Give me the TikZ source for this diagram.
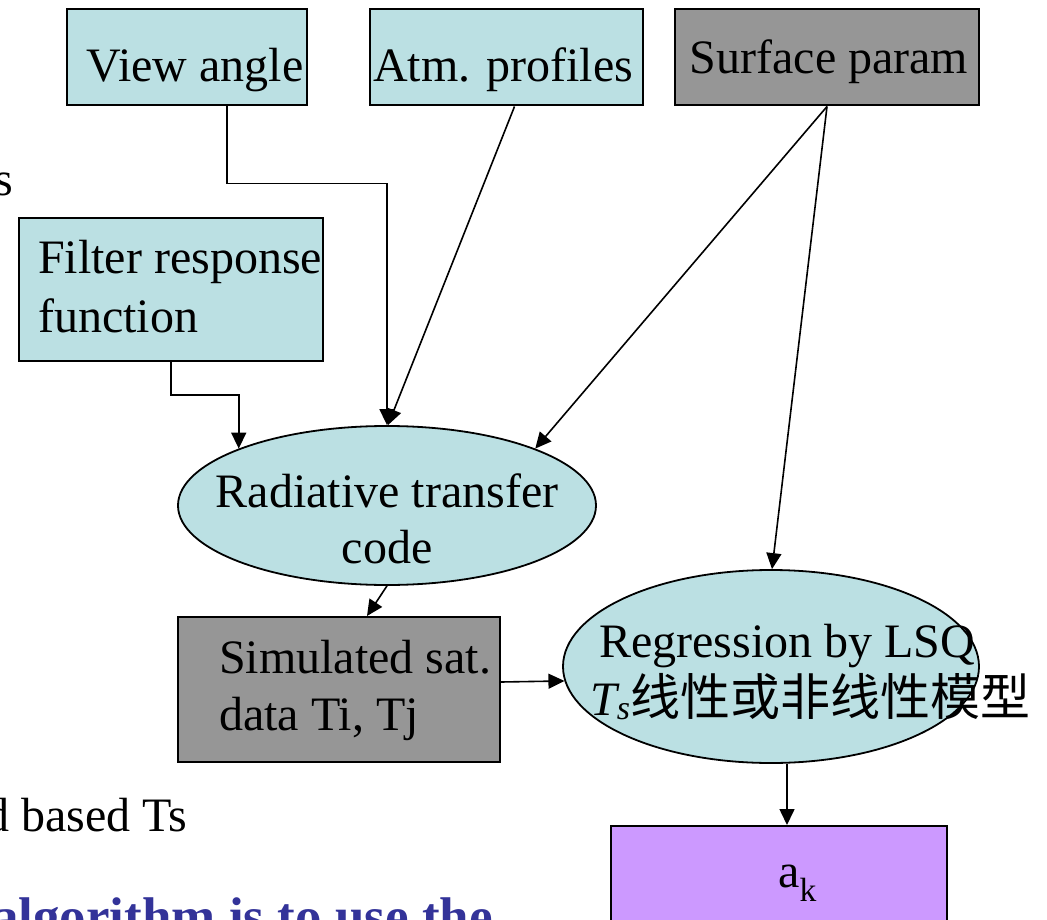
\documentclass[tikz,border=0pt]{standalone}
\usepackage{fontspec}
\setmainfont{Liberation Serif}
\newfontfamily\cjk{Noto Sans CJK SC}
\usetikzlibrary{shapes.geometric,arrows.meta}
\definecolor{cyanfill}{RGB}{187,224,227}
\definecolor{grayfill}{RGB}{150,150,150}
\definecolor{purplefill}{RGB}{204,153,255}
\definecolor{bluetext}{RGB}{51,51,153}
\begin{document}
\begin{tikzpicture}[x=1pt,y=-1pt,
  font=\fontsize{48}{57}\selectfont,
  shapebox/.style={draw=black, line width=2pt, inner sep=0pt},
  ovalbox/.style={draw=black, line width=1.8pt, ellipse, inner sep=0pt, fill=cyanfill},
  txt/.style={inner sep=0pt},
  arr/.style={draw=black, line width=1.6pt, -{Triangle[length=16pt,width=15pt]}}]
\useasboundingbox (0,0) rectangle (1047,920);
\clip (0,0) rectangle (1047,920);

% boxes
\node[shapebox, fill=cyanfill, minimum width=240pt, minimum height=96pt] (view) at (187,57.5) {};
\node[shapebox, fill=cyanfill, minimum width=273pt, minimum height=96pt] (atm) at (506.5,57.5) {};
\node[shapebox, fill=grayfill, minimum width=304pt, minimum height=96pt] (surf) at (827,57.5) {};
\node[shapebox, fill=cyanfill, minimum width=304pt, minimum height=143pt] (filter) at (171,289.5) {};
\node[ovalbox, minimum width=418pt, minimum height=159pt] (rt) at (387,505.5) {};
\node[shapebox, fill=grayfill, minimum width=322pt, minimum height=145pt] (sim) at (339,689.5) {};
\node[ovalbox, minimum width=416pt, minimum height=193pt] (reg) at (771,666.5) {};
\node[shapebox, fill=purplefill, minimum width=336pt, minimum height=120pt] (ak) at (779,886) {};

% texts
\node[txt, anchor=base] (viewT) at (195,82) {View angle};
\node[txt, anchor=base] (atmT) at (503,82) {Atm. profiles};
\node[txt, anchor=base] (surfT) at (829,74) {Surface param};
\node[txt, anchor=base west] (filterT1) at (38,273) {Filter response};
\node[txt, anchor=base west] (filterT2) at (38,332) {function};
\node[txt, anchor=base] (rtT1) at (387,507) {Radiative transfer};
\node[txt, anchor=base] (rtT2) at (387,563) {code};
\node[txt, anchor=base west] (simT1) at (219,673) {Simulated sat.};
\node[txt, anchor=base west] (simT2) at (219,730) {data Ti, Tj};
\node[txt, anchor=base west] (regT1) at (599,657) {Regression by LSQ};
\node[txt, anchor=base west] (regT2) at (590,715) {\itshape T\raisebox{-4pt}{\fontsize{34}{40}\selectfont\itshape s}\upshape{\cjk\fontsize{50}{57}\selectfont 线性或非线性模型}};
\node[txt, anchor=base west] (akT) at (778,887) {a\textsubscript{k}};

% clipped side texts
\node[txt, anchor=base west] (sideS) at (-6,196) {s};
\node[txt, anchor=base west] (sideTs) at (-15,831) {d based Ts};
\node[txt, anchor=base west, text=bluetext, font=\fontsize{53}{60}\selectfont\bfseries] (sideAlg) at (-8,934) {algorithm is to use the};

% connectors
\draw[arr] ([xshift=40pt]view.south) -- ++(0,77) -| (rt.north);
\draw[arr] (filter.south) -- ++(0,33) -| (rt.159);
\draw[arr] ([xshift=8pt]atm.south) -- ([xshift=1pt]rt.north);
\draw[arr] (surf.south) -- (rt.21);
\draw[arr] (surf.south) -- ([xshift=1pt]reg.north);
\draw[arr] (rt.south) -- ([xshift=28pt]sim.north);
\draw[arr] ([yshift=7.5pt]sim.east) -- (reg.184.3);
\draw[arr] ([xshift=16pt]reg.south) -- ([xshift=8pt]ak.north);
\end{tikzpicture}
\end{document}
